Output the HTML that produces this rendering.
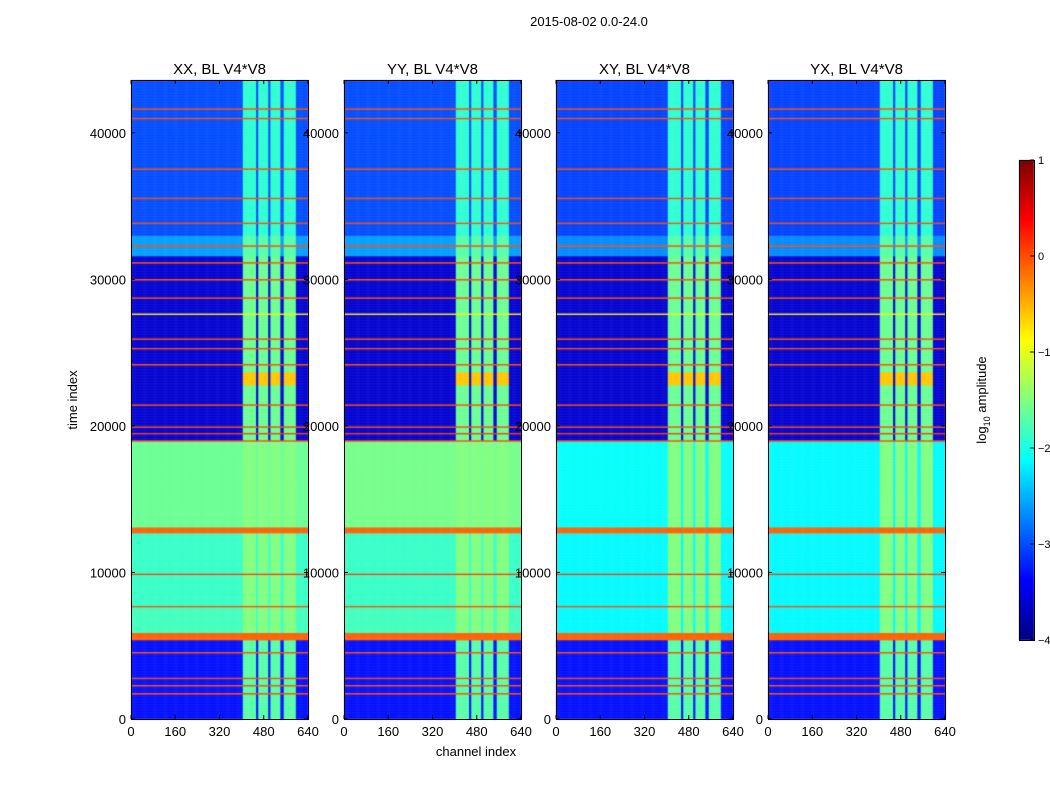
<!DOCTYPE html>
<html><head><meta charset="utf-8">
<style>
body{margin:0;background:#fff;width:1050px;height:800px;overflow:hidden;font-family:"Liberation Sans",sans-serif}
#c{position:absolute;left:0;top:0}
#s{position:absolute;left:0;top:0}
</style></head><body>
<canvas id="c" width="1050" height="800"></canvas>
<svg id="s" width="1050" height="800"></svg>
<script>
// ---- data ----
const panelTitles = ["XX, BL V4*V8","YY, BL V4*V8","XY, BL V4*V8","YX, BL V4*V8"];
const bandStarts = [0,5400,5900,7600,12700,13100,19000,31600,33000,43600];
const baseXX = [-3.3,-0.1,-1.8,-1.85,-0.1,-1.6,-3.6,-2.6,-3.0];
const baseYY = [-3.3,-0.1,-1.8,-1.85,-0.1,-1.55,-3.6,-2.6,-3.0];
const baseXY = [-3.3,-0.1,-2.15,-2.15,-0.1,-2.1,-3.6,-2.7,-3.05];
const baseYX = [-3.3,-0.1,-2.15,-2.15,-0.1,-2.15,-3.6,-2.7,-3.05];
const stripeLevel = [-1.7,null,-1.5,-1.5,null,-1.5,-1.6,-1.7,-1.9];
const stripes = [[405,452],[459,495],[506,542],[553,597]];
const hotStart = 22800, hotEnd = 23700, hotLevel = -0.6;
const lineTimes = [1770,2300,2800,4560,7700,9880,19010,19490,19970,21470,24190,25280,25960,27670,28760,29980,31140,32300,33870,35570,37550,41020,41640];
const lineLevel = [0,0,0,0,0,0.1,0,0.1,0,0,0,0,0,-0.8,0,0,0,0,0,0,0,0,0];
const yTicks = [0,10000,20000,30000,40000];
const xTicks = [0,160,320,480,640];
const cbTicks = [1,0,-1,-2,-3,-4];
// ---- layout ----
const panelX = [131,344,556,768], panelW = 177, pTop = 80, pBottom = 719, tMax = 43600, cMax = 640;
const bases = [baseXX,baseYY,baseXY,baseYX];
const yS = t => pBottom - (t/tMax)*(pBottom-pTop);
const xS = (p,c) => panelX[p] + (c/cMax)*panelW;
function jet(v){
  const x = Math.max(0,Math.min(1,(v+4)/5));
  const cl = a=>Math.round(255*Math.max(0,Math.min(1,a)));
  return `rgb(${cl(1.5-Math.abs(4*x-3))},${cl(1.5-Math.abs(4*x-2))},${cl(1.5-Math.abs(4*x-1))})`;
}
function val(p,t,c){
  let i=0; while(i<bandStarts.length-2 && t>=bandStarts[i+1]) i++;
  let v = bases[p][i];
  const inS = stripes.some(s=>c>=s[0]&&c<s[1]);
  if(inS && stripeLevel[i]!==null) v = Math.max(v,stripeLevel[i]);
  if(inS && t>=hotStart && t<hotEnd) v = hotLevel;
  for(let k=0;k<lineTimes.length;k++) if(Math.abs(t-lineTimes[k])<50) v = lineLevel[k];
  return v;
}
const ctx = document.getElementById('c').getContext('2d');
const tStep=50, cStep=4;
for(let p=0;p<4;p++){
  for(let t=0;t<tMax;t+=tStep){
    for(let c=0;c<cMax;c+=cStep){
      ctx.fillStyle = jet(val(p,t+tStep/2,c+cStep/2));
      const x0=xS(p,c), x1=xS(p,c+cStep), y0=yS(t+tStep), y1=yS(t);
      ctx.fillRect(x0,y0,x1-x0+0.4,y1-y0+0.4);
    }
  }
}
// colorbar
const cbX=1019, cbW=15, cbTop=160, cbBot=640;
for(let y=cbTop;y<cbBot;y++){
  const v = 1 - (y-cbTop)/(cbBot-cbTop)*5;
  ctx.fillStyle = jet(v); ctx.fillRect(cbX,y,cbW,1);
}
// ---- svg ----
const svg = document.getElementById('s'); const NS="http://www.w3.org/2000/svg";
function el(tag,attrs,text){const e=document.createElementNS(NS,tag);for(const k in attrs)e.setAttribute(k,attrs[k]);if(text!==undefined)e.textContent=text;svg.appendChild(e);return e;}
let e;
e=el('text',{x:589,y:26,'text-anchor':'middle','font-size':13},'2015-08-02 0.0-24.0');


for(let p=0;p<4;p++){
  const x0=panelX[p];
  e=el('rect',{x:x0+0.5,y:pTop+0.5,width:panelW,height:pBottom-pTop,fill:'none',stroke:'#000'});
  
  
  e=el('text',{x:x0+panelW/2,y:74,'text-anchor':'middle','font-size':15},panelTitles[p]);
  
  
  yTicks.forEach(t=>{
    const y=yS(t);
    el('line',{x1:x0,x2:x0+4,y1:y,y2:y,stroke:'#000'});
    el('line',{x1:x0+panelW-4,x2:x0+panelW,y1:y,y2:y,stroke:'#000'});
    e=el('text',{x:x0-5,y:y+5,'text-anchor':'end','font-size':13},String(t));
    
    
  });
  xTicks.forEach(c=>{
    const x=xS(p,c);
    el('line',{x1:x,x2:x,y1:pBottom,y2:pBottom-4,stroke:'#000'});
    el('line',{x1:x,x2:x,y1:pTop,y2:pTop+4,stroke:'#000'});
    e=el('text',{x:x,y:736,'text-anchor':'middle','font-size':13},String(c));
    
    
  });
}
e=el('text',{x:476,y:756,'text-anchor':'middle','font-size':13},'channel index');


e=el('text',{x:77,y:400,'text-anchor':'middle','font-size':13,transform:'rotate(-90 77 400)'},'time index');


e=el('rect',{x:cbX+0.5,y:cbTop+0.5,width:cbW,height:cbBot-cbTop,fill:'none',stroke:'#000'});


cbTicks.forEach(v=>{
  const y=cbTop+(1-v)/5*(cbBot-cbTop);
  el('line',{x1:cbX+cbW-4,x2:cbX+cbW,y1:y,y2:y,stroke:'#000'});
  e=el('text',{x:1038,y:y+4,'font-size':11},v<0?'\u2212'+(-v):String(v));
  
  
});
e=el('text',{x:986,y:400,'text-anchor':'middle','font-size':13,transform:'rotate(-90 986 400)'});
e.innerHTML='log<tspan font-size="9" dy="4">10</tspan><tspan dy="-4"> amplitude</tspan>';


</script>
</body></html>
